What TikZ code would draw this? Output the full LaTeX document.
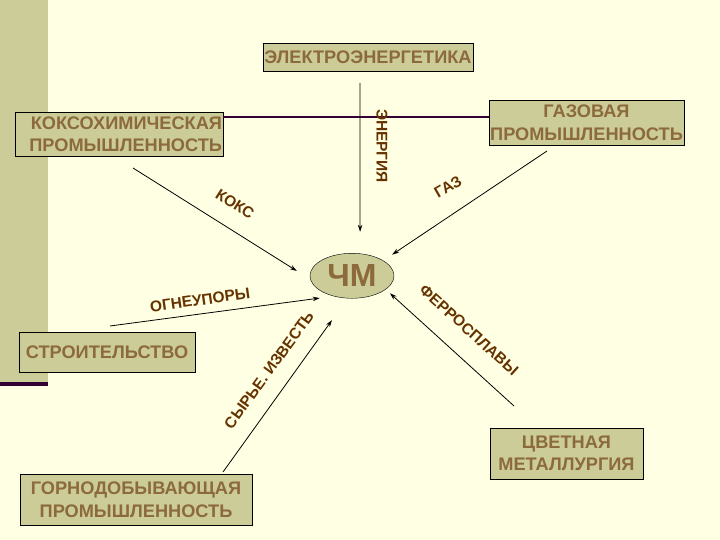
\documentclass[tikz,border=0pt]{standalone}
\usepackage{fontspec}
\setmainfont{Liberation Sans}
\usetikzlibrary{shapes.geometric,arrows.meta}
\definecolor{bgx}{HTML}{FFFFE3}
\definecolor{khx}{HTML}{CCCC99}
\definecolor{brx}{HTML}{8C6A3C}
\definecolor{dbx}{HTML}{663300}
\definecolor{plx}{HTML}{330033}
\tikzset{
    otr/.style={draw=black,fill=khx,text=brx,font=\fontsize{18.2}{22.5}\selectfont\bfseries,inner sep=1pt,align=center},
    mrk/.style={text=dbx,font=\fontsize{15.5}{18}\selectfont\bfseries,inner sep=0pt},
    flow/.style={-{Stealth[length=7pt,width=4.5pt]},line width=0.8pt}
}

\begin{document}
\begin{tikzpicture}[x=1pt,y=-1pt]
    \useasboundingbox [fill=bgx] (0,0) rectangle (720,540);
    \fill [khx] (0,0) rectangle (48,382);
    \fill [plx] (0,382) rectangle (48,386);
    % branches
    \node [otr,minimum width=210pt,minimum height=28pt] (elek) at (368,57) {ЭЛЕКТРОЭНЕРГЕТИКА};
    \node [otr,minimum width=208pt,minimum height=44pt,text width=206pt,align=right] (koks) at (119,134) {КОКСОХИМИЧЕСКАЯ\\ПРОМЫШЛЕННОСТЬ};
    \node [otr,minimum width=193pt,minimum height=45pt] (gaz) at (586.5,122.5) {ГАЗОВАЯ\\ПРОМЫШЛЕННОСТЬ};
    \node [otr,minimum width=176pt,minimum height=40pt] (stroi) at (107,352) {СТРОИТЕЛЬСТВО};
    \node [otr,minimum width=232pt,minimum height=51pt] (gorn) at (136,499.5) {ГОРНОДОБЫВАЮЩАЯ\\ПРОМЫШЛЕННОСТЬ};
    \node [otr,minimum width=153pt,minimum height=51pt] (cvet) at (566.5,453.5) {ЦВЕТНАЯ\\МЕТАЛЛУРГИЯ};
    \node [ellipse,draw=black,fill=khx,text=brx,font=\fontsize{32}{32}\selectfont\bfseries,minimum width=84pt,minimum height=45pt,inner sep=0pt] (chm) at (352,275.8) {ЧМ};
    \draw [plx,line width=1.5pt] ([yshift=-5pt]koks.north east) coordinate (hl) -- (hl -| gaz.west);
    % flows into ЧМ
    \coordinate (t-ener) at (360,83);
    \coordinate (t-koks) at (133,168);
    \coordinate (t-gaz) at (547,151);
    \coordinate (t-ogn) at (110,326);
    \coordinate (t-syr) at (223,472);
    \coordinate (t-ferr) at (514,406);
    \foreach \t/\a/\s in {ener/70/21.7,koks/185/16,gaz/26/10.7,ogn/228/14,syr/259/26.8,ferr/338/5.7} {
        \draw [flow,shorten >=\s pt] (t-\t) -- (chm.\a);
    }
    \node [mrk,rotate=-90] (l-ener) at (382,146) {ЭНЕРГИЯ};
    \node [mrk,rotate=-33] (l-koks) at (235,204) {КОКС};
    \node [mrk,rotate=30] (l-gaz) at (448,187) {ГАЗ};
    \node [mrk,rotate=8] (l-ogn) at (200,300) {ОГНЕУПОРЫ};
    \node [mrk,rotate=54] (l-syr) at (269,370) {СЫРЬЕ. ИЗВЕСТЬ};
    \node [mrk,rotate=-42] (l-ferr) at (469,330) {ФЕРРОСПЛАВЫ};
\end{tikzpicture}
\end{document}
